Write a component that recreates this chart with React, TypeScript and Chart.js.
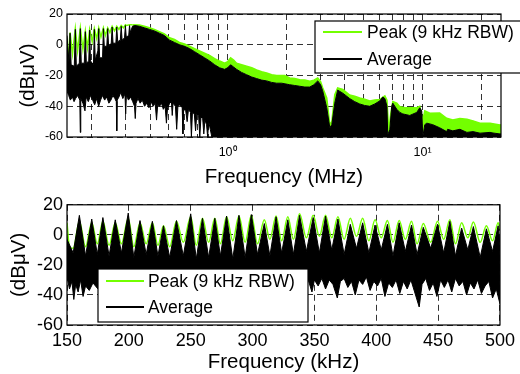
import React, { useEffect, useRef } from 'react';
import { Chart, registerables } from 'chart.js';

Chart.register(...registerables);

// ---------------- DATA: top plot (frequency in MHz, level in dBµV) ----------------
const topPeakFreq = [
  0.150, 0.152, 0.1555, 0.160, 0.1655, 0.170, 0.1756, 0.181, 0.1863, 0.191,
  0.1960, 0.202, 0.2072, 0.213, 0.2182, 0.224, 0.2306, 0.236, 0.2426, 0.249,
  0.2557, 0.263, 0.2700, 0.277, 0.2846, 0.292, 0.2990, 0.3026, 0.3140, 0.325,
  0.353, 0.374, 0.397, 0.421, 0.447, 0.474, 0.504, 0.534, 0.566, 0.601,
  0.638, 0.677, 0.718, 0.762, 0.808, 0.858, 0.910, 0.965, 1.0, 1.036,
  1.074, 1.112, 1.18, 1.252, 1.33, 1.409, 1.495, 1.586, 1.683, 1.785,
  1.894, 1.963, 2.083, 2.21, 2.345, 2.49, 2.64, 2.77, 2.9, 3.0,
  3.075, 3.226, 3.345, 3.425, 3.547, 3.67, 3.9, 4.23, 4.49, 4.76,
  5.05, 5.36, 5.69, 6.04, 6.41, 6.57, 6.71, 6.87, 7.04, 7.38,
  7.65, 8.12, 8.6, 9.34, 9.68, 10.03, 10.27, 10.9, 12.25, 13.3,
  14.3, 15.55, 16.9, 18.17, 19.72, 22.2, 24.97, 25.27,
];
const topPeak = [
  3, -10, 8, -6, 10.5, -4, 11, -3, 9, -2,
  10, 2, 10.5, 4, 11, 5, 11, 6, 11, 8,
  12, 9, 12, 10, 12.5, 11, 13, 12.5, 13, 13,
  12.8, 12, 11, 10, 8.5, 7, 4.5, 3.5, 1.5, 0.5,
  -1, -2.5, -4, -5.5, -7, -9, -10.6, -12, -11, -8.5,
  -10, -12, -13, -14, -15, -16.4, -17.5, -18.4, -19.5, -20,
  -20, -20, -21.6, -22, -22.7, -23, -23.7, -23, -21.6, -24,
  -28, -34.6, -52, -50, -32.5, -28, -29, -32.7, -33.5, -34.6,
  -35.5, -36.6, -36, -35.6, -33.3, -36, -56, -45, -37, -38,
  -40.3, -41, -41, -41, -40, -49.6, -43, -44.5, -44.4, -47.8,
  -49, -48, -48.5, -49.5, -51, -51, -52.2, -52,
];

const topAvgHiFreq = [
  0.150, 0.1535, 0.1555, 0.1575, 0.1635, 0.1655, 0.1675, 0.1735, 0.1756, 0.1775,
  0.1840, 0.1863, 0.1885, 0.1940, 0.1960, 0.1980, 0.2050, 0.2072, 0.2094, 0.2160,
  0.2182, 0.2205, 0.2283, 0.2306, 0.2330, 0.2400, 0.2426, 0.2452, 0.2530, 0.2557,
  0.2584, 0.2672, 0.2700, 0.2730, 0.2815, 0.2846, 0.2876, 0.2960, 0.2990, 0.3020,
  0.3110, 0.3140, 0.3170, 0.325, 0.335, 0.353, 0.374, 0.397, 0.421, 0.447,
  0.474, 0.504, 0.534, 0.566, 0.601, 0.638, 0.677, 0.718, 0.762, 0.808,
  0.858, 0.910, 0.965, 1.0, 1.036, 1.074, 1.112, 1.18, 1.252, 1.33,
  1.409, 1.495, 1.586, 1.683, 1.785, 1.894, 2.083, 2.21, 2.345, 2.49,
  2.64, 2.77, 2.9, 3.0, 3.075, 3.226, 3.345, 3.425, 3.547, 3.67,
  3.9, 4.23, 4.49, 4.76, 5.05, 5.36, 5.69, 6.04, 6.25, 6.41,
  6.57, 6.63, 6.80, 6.95, 7.04, 7.38, 7.65, 7.93, 8.6, 9.34,
  9.68, 9.91, 10.03, 10.27, 10.52, 11.29, 12.25, 13.3, 13.45, 14.3,
  15.55, 16.9, 18.17, 19.72, 22.2, 23.0, 24.97, 25.27,
];
const topAvgHi = [
  6, -11, 7.5, -13, -14, 10, -14, -12, 10.5, -12,
  -12, 8.5, -12, -10.5, 9.5, -10.5, -13, 10, -10, -4,
  10.5, -8.5, -8.5, 10.5, -1, -1, 10.5, -1, 1, 11.5,
  1, 1, 11.5, 2, 3, 12, 3, 4.5, 12.5, 5,
  6, 12.5, 8, 12, 12.5, 12, 11, 10, 9, 7.5,
  6, 3, 1.5, 0, -1, -2.5, -4.5, -6.5, -8.5, -10.5,
  -13, -15, -16, -15, -13, -14.5, -16, -18, -19.5, -21,
  -22, -23, -23.5, -24.5, -25, -25, -26, -26.5, -27, -27.5,
  -27.5, -26, -23.5, -26, -30, -41, -54, -52, -38, -29.5,
  -31.5, -35, -37, -38.5, -39.5, -40, -38.5, -36.5, -34, -35,
  -40, -58.7, -55, -40, -38, -42, -44, -45, -46, -44,
  -41, -43, -60, -52, -51, -52, -54, -56.5, -55, -56,
  -55, -57, -56.5, -57.5, -57, -57.4, -58, -58,
];

const topAvgLoFreq = [
  0.150, 0.153, 0.156, 0.160, 0.163, 0.166, 0.170, 0.1745, 0.1755, 0.1765,
  0.181, 0.1855, 0.188, 0.193, 0.198, 0.203, 0.208, 0.213, 0.218, 0.223,
  0.228, 0.234, 0.240, 0.246, 0.252, 0.258, 0.264, 0.2685, 0.2700, 0.2715,
  0.277, 0.283, 0.290, 0.2975, 0.300, 0.3025, 0.310, 0.318, 0.326, 0.333,
  0.336, 0.339, 0.347, 0.356, 0.365, 0.375, 0.385, 0.395, 0.405, 0.415,
  0.425, 0.432, 0.438, 0.448, 0.458, 0.468, 0.478, 0.4855, 0.492, 0.505,
  0.515, 0.520, 0.525, 0.540, 0.548, 0.556, 0.570, 0.585, 0.590, 0.595,
  0.610, 0.620, 0.630, 0.645, 0.652, 0.660, 0.675, 0.685, 0.695, 0.710,
  0.720, 0.730, 0.745, 0.755, 0.765, 0.780, 0.790, 0.800, 0.815, 0.830,
  25.27,
];
const topAvgLo = [
  -30, -33, -36, -34, -37, -35, -33, -36, -57, -35,
  -38, -43, -34, -37, -33, -36, -39, -35, -40, -36,
  -33, -36, -34, -38, -36, -33, -35, -37, -56, -36,
  -34, -31, -35, -32, -45, -33, -36, -34, -37, -40,
  -48, -38, -35, -38, -36, -40, -38, -41, -37, -40,
  -38, -49, -39, -40, -38, -42, -40, -51, -41, -38,
  -37, -46, -38, -40, -55, -40, -39, -41, -58, -42,
  -43, -50, -42, -44, -60, -44, -45, -56, -45, -46,
  -60, -47, -48, -58, -49, -52, -60, -50, -55, -60,
  -60,
];

const topGridTicks = [0.2, 0.3, 0.4, 0.5, 0.6, 0.7, 0.8, 0.9, 1, 2, 3, 4, 5, 6, 7, 8, 9, 10, 20];
const topTickLabels: Record<string, string> = { '1': '10⁰', '10': '10¹' };

// ---------------- DATA: bottom plot (frequency in kHz, level in dBµV) ----------------
const botPeakFreq = [
  150, 152, 155, 160, 165, 170, 174.5, 179, 184, 189,
  194, 199.5, 204, 209, 214, 219, 223.5, 228, 233, 238.5,
  244, 250, 254.5, 259.5, 264.5, 269.5, 274, 279, 284, 289,
  294, 299, 304, 309.5, 314, 319, 323.5, 328.5, 333, 338,
  343.5, 349, 354, 359, 364, 369, 374, 379, 384, 389,
  394, 399, 404, 409, 413.5, 418.5, 423.5, 428.5, 433, 438,
  444, 449.5, 454.5, 459.5, 464, 469, 474, 478.5, 484, 489,
  494, 498.5, 500,
];
const botPeak = [
  8, -8, -9, 9, -8, 8, -6, 9, -7, 8,
  -6, 11, -8, 8, -6, 8, -7, 6, -8, 9,
  -5, 12, -7, 11, -5, 11, -6, 12, -4, 12.5,
  -5, 13, -6, 10, -3, 12.5, -4, 12, -3, 14,
  -2, 13, -1, 13, -2, 12, -3, 11, -1, 11,
  -4, 10, -2, 9.5, -5, 9.5, -3, 9, -6, 7.5,
  -5, 9, -3, 10, -6, 8, -2, 8.5, -5, 6,
  -4, 8, 4,
];

const botAvgHiFreq = [
  150, 155, 160, 165, 170, 174.5, 179, 184, 189, 194,
  199.5, 204, 209, 214, 219, 223.5, 228, 233, 238.5, 244,
  250, 254.5, 259.5, 264.5, 269.5, 274, 279, 284, 289, 294,
  299, 304, 309.5, 314, 319, 323.5, 328.5, 333, 338, 343.5,
  349, 354, 359, 364, 369, 374, 379, 384, 389, 394,
  399, 404, 409, 413.5, 418.5, 423.5, 428.5, 433, 438, 444,
  449.5, 454.5, 459.5, 464, 469, 474, 478.5, 484, 489, 494,
  498.5, 500,
];
const botAvgHi = [
  -3, -12, 13, -14, 10.5, -13, 11.5, -14, 10, -12,
  14.5, -15, 9.5, -13, 9, -14, 6, -15, 9.5, -14,
  14, -16, 11, -15, 11, -14, 12.5, -16, 13, -15,
  13.5, -13, 7.5, -14, 12, -12, 10, -13, 13, -11,
  11.5, -12, 12.5, -10, 10.5, -13, 7, -9, 8, -12,
  6.5, -10, 7, -14, 8, -11, 6.5, -13, 5, -9,
  7, -12, 9, -14, 4.5, -10, 5.5, -15, 4, -11,
  6, -8,
];

const botAvgLoFreq = [
  150, 152, 154, 155.5, 157, 159, 161, 163, 165, 168,
  171, 175, 180, 185, 190, 200, 210, 220, 230, 240,
  250, 260, 270, 280, 290, 300, 310, 320, 330, 340,
  345, 348, 350, 353, 356, 359, 362, 365, 368.5, 371,
  374, 377, 380, 383, 386, 389, 392, 395, 398, 401,
  404, 407, 410, 413, 416, 419, 422, 425, 428, 431,
  434.7, 437, 440, 443, 446, 449, 452, 455, 458, 461,
  464, 467, 470, 473, 476, 479, 482, 485, 488, 491,
  494, 497, 500,
];
const botAvgLo = [
  -28, -36, -31, -43, -33, -38, -30, -41, -34, -37,
  -32, -36, -30, -33, -29, -31, -28, -32, -29, -31,
  -28, -32, -30, -33, -29, -31, -30, -33, -29, -32,
  -30, -38, -30, -34, -29, -36, -30, -33, -42, -31,
  -29, -35, -31, -40, -30, -33, -28, -37, -31, -34,
  -29, -41, -32, -35, -30, -39, -31, -36, -30, -38,
  -48, -33, -29, -37, -32, -41, -30, -35, -30, -38,
  -29, -34, -31, -40, -32, -36, -30, -39, -34, -31,
  -42, -36, -46,
];

const LABEL_PEAK = 'Peak (9 kHz RBW)';
const LABEL_AVG = 'Average';
const Y_TITLE = '(dBμV)';

// ---------------- styling ----------------
const FONT = "'Liberation Sans', Arial, Helvetica, sans-serif";
const GREEN = '#73ff00';
const GRID_COLOR = 'rgba(0,0,0,0.8)';
const DASH = [6, 4];

const pts = (xs: number[], ys: number[]) => xs.map((x, i) => ({ x, y: ys[i] }));

const framePlugin = {
  id: 'frame',
  afterDatasetsDraw(chart: any) {
    const { ctx, chartArea: a } = chart;
    ctx.save();
    ctx.strokeStyle = '#000';
    ctx.lineWidth = 1.2;
    ctx.strokeRect(a.left, a.top, a.right - a.left, a.bottom - a.top);
    ctx.restore();
  },
};

function legendPlugin(box: { x: number; y: number; w: number; h: number; rows: number[]; x0: number; x1: number; tx: number; size: number }) {
  return {
    id: 'boxedLegend',
    afterDraw(chart: any) {
      const ctx = chart.ctx;
      const items = chart.data.datasets.filter((d: any) => !d.hideInLegend);
      ctx.save();
      ctx.fillStyle = '#fff';
      ctx.fillRect(box.x, box.y, box.w, box.h);
      ctx.strokeStyle = '#000';
      ctx.lineWidth = 1.2;
      ctx.strokeRect(box.x, box.y, box.w, box.h);
      items.forEach((d: any, i: number) => {
        const y = box.rows[i];
        ctx.strokeStyle = d.borderColor;
        ctx.lineWidth = 2;
        ctx.beginPath();
        ctx.moveTo(box.x0, y);
        ctx.lineTo(box.x1, y);
        ctx.stroke();
        ctx.fillStyle = '#000';
        ctx.font = `${box.size}px ${FONT}`;
        ctx.textBaseline = 'middle';
        ctx.textAlign = 'left';
        ctx.fillText(d.label, box.tx, y + 1);
      });
      ctx.restore();
    },
  };
}

function datasets(peak: any[], hi: any[], lo: any[], greenBand: boolean) {
  return [
    {
      label: LABEL_PEAK,
      data: peak,
      borderColor: GREEN,
      backgroundColor: GREEN,
      borderWidth: 1.5,
      fill: greenBand ? '+1' : false,
      segment: greenBand
        ? { backgroundColor: (c: any) => (c.p0.parsed.x < 0.32 ? 'rgba(0,0,0,0)' : GREEN) }
        : undefined,
      cubicInterpolationMode: greenBand ? 'default' : 'monotone',
      tension: greenBand ? 0 : 0.4,
      order: 3,
    },
    {
      label: LABEL_AVG,
      data: hi,
      borderColor: '#000',
      backgroundColor: '#000',
      borderWidth: 1,
      fill: false,
      order: 2,
    },
    {
      label: LABEL_AVG + ' (lower)',
      hideInLegend: true,
      data: lo,
      borderColor: '#000',
      backgroundColor: '#000',
      borderWidth: 1,
      fill: '-1',
      order: 1,
    },
  ];
}

function baseOptions(o: {
  padTop: number; xHeight: number; yTitlePad: number; xTitlePad: number;
  tickSize: number; xTickPad: number; x: any;
}) {
  return {
    responsive: false,
    animation: false as const,
    events: [] as any[],
    layout: { padding: { top: o.padTop, right: 19, left: 0, bottom: 0 } },
    elements: { point: { radius: 0 }, line: { tension: 0 } },
    plugins: { legend: { display: false }, tooltip: { enabled: false } },
    scales: {
      x: {
        ...o.x,
        afterFit: (s: any) => { s.height = o.xHeight; },
        grid: { color: GRID_COLOR, lineWidth: 1, drawTicks: false },
        border: { display: false, dash: DASH },
        ticks: {
          ...(o.x.ticks || {}),
          autoSkip: false,
          maxRotation: 0,
          color: '#000',
          padding: o.xTickPad,
          font: { family: FONT, size: o.tickSize },
        },
        title: {
          display: true,
          text: o.x.titleText,
          color: '#000',
          font: { family: FONT, size: 20.5, lineHeight: 1 },
          padding: { top: 0, bottom: o.xTitlePad },
        },
      },
      y: {
        type: 'linear',
        min: -60,
        max: 20,
        afterFit: (s: any) => { s.width = 67; },
        grid: { color: GRID_COLOR, lineWidth: 1, drawTicks: false },
        border: { display: false, dash: DASH },
        ticks: {
          stepSize: 20,
          color: '#000',
          padding: 4,
          font: { family: FONT, size: o.tickSize },
        },
        title: {
          display: true,
          text: Y_TITLE,
          color: '#000',
          font: { family: FONT, size: 20.5 },
          padding: { top: o.yTitlePad, bottom: 0 },
        },
      },
    },
  };
}

export default function App() {
  const topRef = useRef<HTMLCanvasElement>(null);
  const botRef = useRef<HTMLCanvasElement>(null);

  useEffect(() => {
    const topChart = new Chart(topRef.current as HTMLCanvasElement, {
      type: 'line',
      data: {
        datasets: datasets(
          pts(topPeakFreq, topPeak),
          pts(topAvgHiFreq, topAvgHi),
          pts(topAvgLoFreq, topAvgLo),
          true,
        ) as any,
      },
      options: baseOptions({
        padTop: 14,
        xHeight: 53,
        yTitlePad: 16,
        xTitlePad: 2,
        tickSize: 12.5,
        xTickPad: 8,
        x: {
          type: 'logarithmic',
          min: 0.15,
          max: 25.27,
          titleText: 'Frequency (MHz)',
          afterBuildTicks: (s: any) => {
            s.ticks = topGridTicks.map((v) => ({ value: v, major: false }));
          },
          ticks: { callback: (v: number) => topTickLabels[String(v)] || '' },
        },
      }) as any,
      plugins: [framePlugin, legendPlugin({ x: 315, y: 21, w: 215, h: 52, rows: [32, 59], x0: 323, x1: 362, tx: 367, size: 17.5 })],
    });

    const botChart = new Chart(botRef.current as HTMLCanvasElement, {
      type: 'line',
      data: {
        datasets: datasets(
          pts(botPeakFreq, botPeak),
          pts(botAvgHiFreq, botAvgHi),
          pts(botAvgLoFreq, botAvgLo),
          false,
        ) as any,
      },
      options: baseOptions({
        padTop: 12,
        xHeight: 49,
        yTitlePad: 7,
        xTitlePad: 1,
        tickSize: 18,
        xTickPad: 5,
        x: {
          type: 'linear',
          min: 150,
          max: 500,
          titleText: 'Frequency (kHz)',
          ticks: { stepSize: 50 },
        },
      }) as any,
      plugins: [framePlugin, legendPlugin({ x: 98, y: 79, w: 210, h: 53, rows: [91, 117], x0: 106, x1: 144, tx: 148, size: 17.5 })],
    });

    return () => {
      topChart.destroy();
      botChart.destroy();
    };
  }, []);

  return (
    <div style={{ position: 'fixed', left: 0, top: 0, width: 520, height: 374, background: '#fff', overflow: 'hidden' }}>
      <canvas ref={topRef} width={520} height={190} style={{ position: 'absolute', left: 0, top: 0, width: 520, height: 190 }} />
      <canvas ref={botRef} width={520} height={184} style={{ position: 'absolute', left: 0, top: 190, width: 520, height: 184 }} />
    </div>
  );
}
